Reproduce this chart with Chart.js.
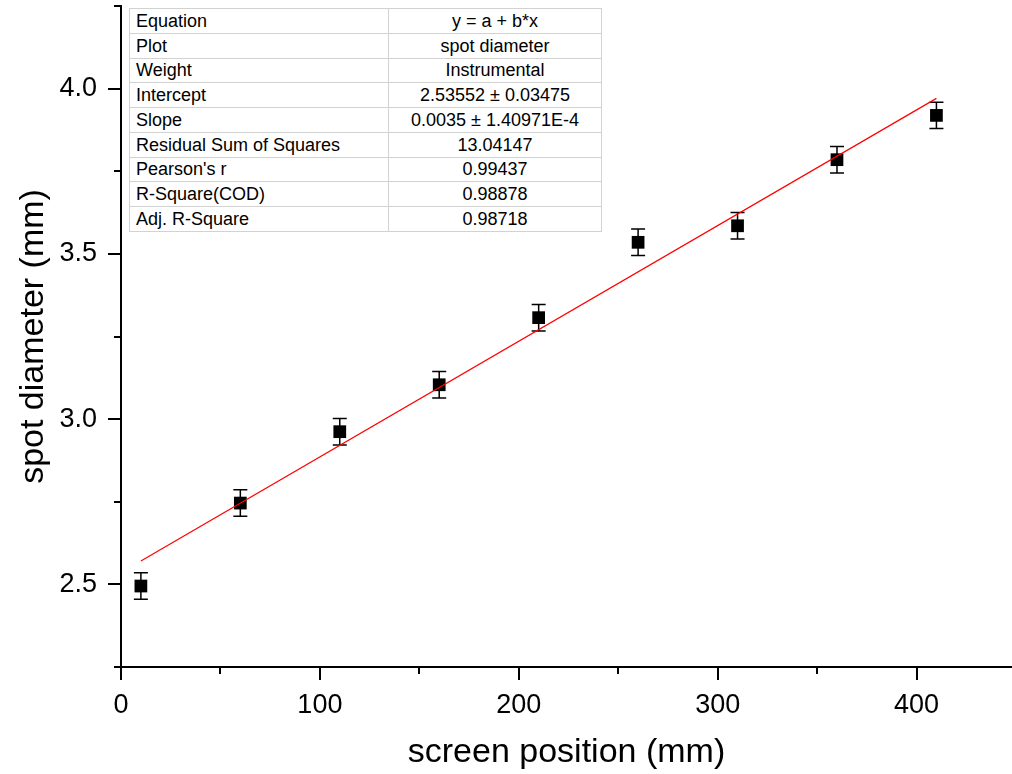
<!DOCTYPE html>
<html><head><meta charset="utf-8">
<script src="https://cdn.jsdelivr.net/npm/chart.js@4.4.0/dist/chart.umd.min.js"></script>
<style>
html,body{margin:0;padding:0;background:#fff;}
#wrap{position:relative;width:1012px;height:774px;overflow:hidden;}
canvas{position:absolute;left:0;top:0;}
#stats{position:absolute;left:129px;top:8px;border-collapse:collapse;table-layout:fixed;font-family:"Liberation Sans",Arial,sans-serif;font-size:18px;color:#000;background:#fff;border:1px solid #3c3c3c;width:473px;}
#stats td{height:23.75px;padding:0 0 0 6px;border:1px solid #d2d2d2;line-height:1;white-space:nowrap;}
#stats td.v{text-align:center;padding:0;}
</style></head>
<body>
<div id="wrap">
<canvas id="c" width="1012" height="774"></canvas>
<table id="stats"><colgroup><col style="width:259px"><col></colgroup><tbody id="tb"></tbody></table>
</div>
<script>
// ---- data ----
const xPositions = [10, 60, 110, 160, 210, 260, 310, 360, 410];
const spotDiameter = [2.495, 2.746, 2.962, 3.104, 3.307, 3.535, 3.585, 3.785, 3.919];
const spotError = [0.04, 0.04, 0.04, 0.04, 0.04, 0.04, 0.04, 0.04, 0.04];
const fitX = [10, 410];
const fitY = [2.5705, 3.9705];
const xMajorTicks = [0, 100, 200, 300, 400];
const xMinorTicks = [50, 150, 250, 350];
const yMajorTicks = [2.5, 3.0, 3.5, 4.0];
const yMinorTicks = [2.25, 2.75, 3.25, 3.75, 4.25];
const statLabels = ["Equation", "Plot", "Weight", "Intercept", "Slope", "Residual Sum of Squares", "Pearson's r", "R-Square(COD)", "Adj. R-Square"];
const statValues = ["y = a + b*x", "spot diameter", "Instrumental", "2.53552 \u00b1 0.03475", "0.0035 \u00b1 1.40971E-4", "13.04147", "0.99437", "0.98878", "0.98718"];

// ---- table ----
const tb = document.getElementById('tb');
statLabels.forEach((l, i) => {
  const tr = document.createElement('tr');
  const a = document.createElement('td'); a.textContent = l;
  const b = document.createElement('td'); b.className = 'v'; b.textContent = statValues[i];
  tr.appendChild(a); tr.appendChild(b); tb.appendChild(tr);
});

const FONT = '"Liberation Sans", Arial, sans-serif';

const errorBars = {
  id: 'errorBars',
  beforeDatasetsDraw(chart) {
    const ctx = chart.ctx, xs = chart.scales.x, ys = chart.scales.y;
    ctx.save();
    ctx.strokeStyle = '#000';
    ctx.lineWidth = 1.5;
    xPositions.forEach((xv, i) => {
      const px = xs.getPixelForValue(xv);
      const top = ys.getPixelForValue(spotDiameter[i] + spotError[i]);
      const bot = ys.getPixelForValue(spotDiameter[i] - spotError[i]);
      ctx.beginPath();
      ctx.moveTo(px, top); ctx.lineTo(px, bot);
      ctx.moveTo(px - 7, top); ctx.lineTo(px + 7, top);
      ctx.moveTo(px - 7, bot); ctx.lineTo(px + 7, bot);
      ctx.stroke();
    });
    ctx.restore();
  }
};

const tickMarks = {
  id: 'tickMarks',
  afterDraw(chart) {
    const ctx = chart.ctx, xs = chart.scales.x, ys = chart.scales.y;
    const left = chart.chartArea.left, bottom = chart.chartArea.bottom;
    ctx.save();
    ctx.strokeStyle = '#000';
    ctx.lineWidth = 2;
    ctx.beginPath();
    xMajorTicks.forEach(v => { const p = Math.round(xs.getPixelForValue(v)); ctx.moveTo(p, bottom); ctx.lineTo(p, bottom + 13); });
    xMinorTicks.forEach(v => { const p = Math.round(xs.getPixelForValue(v)); ctx.moveTo(p, bottom); ctx.lineTo(p, bottom + 7); });
    yMajorTicks.forEach(v => { const p = Math.round(ys.getPixelForValue(v)); ctx.moveTo(left, p); ctx.lineTo(left - 13, p); });
    yMinorTicks.forEach(v => { const p = Math.round(ys.getPixelForValue(v)); ctx.moveTo(left, p); ctx.lineTo(left - 7, p); });
    ctx.stroke();
    ctx.restore();
  }
};

function zeroPad(s) { s.paddingTop = 0; s.paddingBottom = 0; s.paddingLeft = 0; s.paddingRight = 0; }

new Chart(document.getElementById('c'), {
  type: 'scatter',
  data: {
    datasets: [
      {
        label: 'fit',
        type: 'line',
        data: fitX.map((x, i) => ({x, y: fitY[i]})),
        borderColor: '#ff0000',
        borderWidth: 1.2,
        pointRadius: 0,
        showLine: true,
        fill: false,
        order: 0
      },
      {
        label: 'spot diameter',
        data: xPositions.map((x, i) => ({x, y: spotDiameter[i]})),
        pointStyle: 'rect',
        pointRadius: 9,
        pointHoverRadius: 9,
        backgroundColor: '#000',
        borderColor: '#000',
        borderWidth: 0,
        order: 1
      }
    ]
  },
  options: {
    responsive: false,
    devicePixelRatio: 1,
    animation: false,
    layout: { autoPadding: false, padding: { top: 6, right: 0, left: 0, bottom: 0 } },
    plugins: { legend: { display: false }, tooltip: { enabled: false } },
    scales: {
      x: {
        type: 'linear', min: 0, max: 448,
        afterBuildTicks: s => { s.ticks = xMajorTicks.map(v => ({value: v})); },
        afterFit: s => { s.height = 107; zeroPad(s); },
        grid: { display: false, drawTicks: false },
        border: { display: true, color: '#000', width: 2 },
        ticks: { color: '#000', font: { family: FONT, size: 27 }, padding: 22, maxRotation: 0, autoSkip: false },
        title: { display: true, text: 'screen position (mm)', color: '#000', font: { family: FONT, size: 34, lineHeight: 1 }, padding: { top: 0, bottom: 4 } }
      },
      y: {
        type: 'linear', min: 2.25, max: 4.25,
        afterBuildTicks: s => { s.ticks = yMajorTicks.map(v => ({value: v})); },
        afterFit: s => { s.width = 121; zeroPad(s); },
        grid: { display: false, drawTicks: false },
        border: { display: true, color: '#000', width: 2 },
        ticks: { color: '#000', font: { family: FONT, size: 27 }, padding: 24, callback: v => Number(v).toFixed(1) },
        title: { display: true, text: 'spot diameter (mm)', color: '#000', font: { family: FONT, size: 34, lineHeight: 1 }, padding: { top: 17, bottom: 0 } }
      }
    }
  },
  plugins: [errorBars, tickMarks]
});
</script>
</body></html>
